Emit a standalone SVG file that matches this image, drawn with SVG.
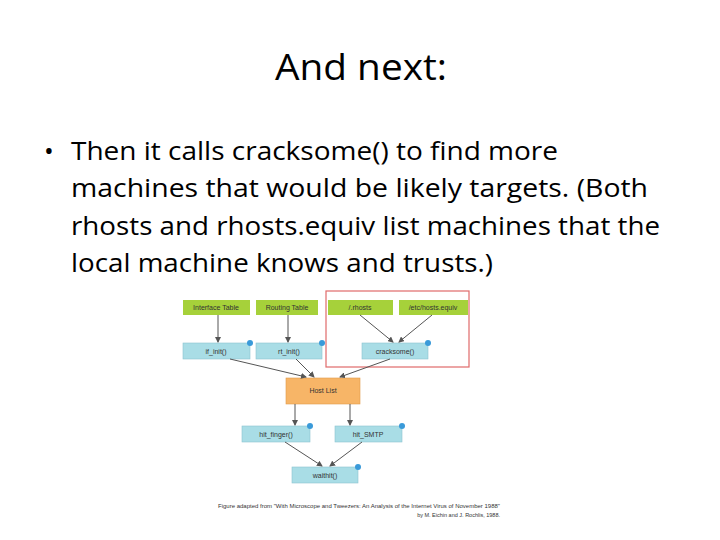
<svg xmlns="http://www.w3.org/2000/svg" width="720" height="540" viewBox="0 0 720 540">
<style>
.t{font-family:"Open Sans","Liberation Sans",Arial,sans-serif}
.g{fill:#a6d13a}
.b{fill:#a9dde6;stroke:#8cc4cf;stroke-width:0.6}
.s{font-family:"Liberation Sans",Arial,sans-serif;font-size:7px;fill:#333;text-anchor:middle}
.cap{font-family:"Liberation Sans",Arial,sans-serif;font-size:5.5px;fill:#333;text-anchor:end}
.d{fill:#3a9ad9}
.c line{stroke:#555;stroke-width:1;marker-end:url(#a)}
</style>
<defs><marker id="a" markerWidth="6" markerHeight="6" refX="5" refY="3" orient="auto"><path d="M0,0L6,3L0,6z" fill="#555"/></marker></defs>
<rect width="720" height="540" fill="#fff"/>
<text class="t" x="275" y="80" font-size="37" textLength="172" lengthAdjust="spacingAndGlyphs" fill="#000">And next:</text>
<g class="t" font-size="26" fill="#000">
<text x="44" y="160">•</text>
<text x="71" y="160" textLength="487" lengthAdjust="spacingAndGlyphs">Then it calls cracksome() to find more</text>
<text x="71" y="197" textLength="577" lengthAdjust="spacingAndGlyphs">machines that would be likely targets.  (Both</text>
<text x="71" y="235" textLength="589" lengthAdjust="spacingAndGlyphs">rhosts and rhosts.equiv list machines that the</text>
<text x="71" y="272" textLength="422" lengthAdjust="spacingAndGlyphs">local machine knows and trusts.)</text>
</g>
<rect x="326" y="291" width="143" height="76" fill="none" stroke="#e06a6a" stroke-width="1.2"/>
<g id="n1"><rect class="g" x="183" y="300" width="67" height="15"/><text class="s" x="216" y="310">Interface Table</text></g>
<g id="n2"><rect class="g" x="256" y="300" width="62" height="15"/><text class="s" x="287" y="310">Routing Table</text></g>
<g id="n3"><rect class="g" x="328" y="300" width="65" height="15"/><text class="s" x="360" y="310">/.rhosts</text></g>
<g id="n4"><rect class="g" x="399" y="300" width="69" height="15"/><text class="s" x="433" y="310">/etc/hosts.equiv</text></g>
<g id="n5"><rect class="b" x="183" y="343" width="67" height="16"/><circle class="d" cx="250" cy="343" r="3"/><text class="s" x="216" y="354">if_init()</text></g>
<g id="n6"><rect class="b" x="256" y="343" width="66" height="16"/><circle class="d" cx="322" cy="343" r="3"/><text class="s" x="289" y="354">rt_init()</text></g>
<g id="n7"><rect class="b" x="362" y="343" width="66" height="16"/><circle class="d" cx="428" cy="343" r="3"/><text class="s" x="395" y="354">cracksome()</text></g>
<g id="n8"><rect x="286" y="378" width="74" height="26" fill="#f7b567" stroke="#e09a4a" stroke-width="0.6"/><text class="s" x="323" y="393">Host List</text></g>
<g id="n9"><rect class="b" x="242" y="426" width="68" height="16"/><circle class="d" cx="310" cy="426" r="3"/><text class="s" x="276" y="437">hit_finger()</text></g>
<g id="n10"><rect class="b" x="335" y="426" width="67" height="16"/><circle class="d" cx="402" cy="426" r="3"/><text class="s" x="368" y="437">hit_SMTP</text></g>
<g id="n11"><rect class="b" x="292" y="467" width="66" height="16"/><circle class="d" cx="358" cy="467" r="3"/><text class="s" x="325" y="478">waithit()</text></g>
<g class="c">
<line x1="218" y1="315" x2="218" y2="342"/>
<line x1="288" y1="315" x2="288" y2="342"/>
<line x1="360" y1="315" x2="393" y2="342"/>
<line x1="432" y1="315" x2="399" y2="342"/>
<line x1="230" y1="359" x2="306" y2="377"/>
<line x1="296" y1="359" x2="314" y2="377"/>
<line x1="390" y1="359" x2="340" y2="377"/>
<line x1="295" y1="404" x2="295" y2="425"/>
<line x1="350" y1="404" x2="350" y2="425"/>
<line x1="285" y1="442" x2="322" y2="466"/>
<line x1="362" y1="442" x2="330" y2="466"/>
</g>
<text class="cap" x="500" y="508" textLength="282" lengthAdjust="spacingAndGlyphs">Figure adapted from "With Microscope and Tweezers: An Analysis of the Internet Virus of November 1988"</text>
<text class="cap" x="500" y="517">by M. Eichin and J. Rochlis, 1988.</text>
</svg>
